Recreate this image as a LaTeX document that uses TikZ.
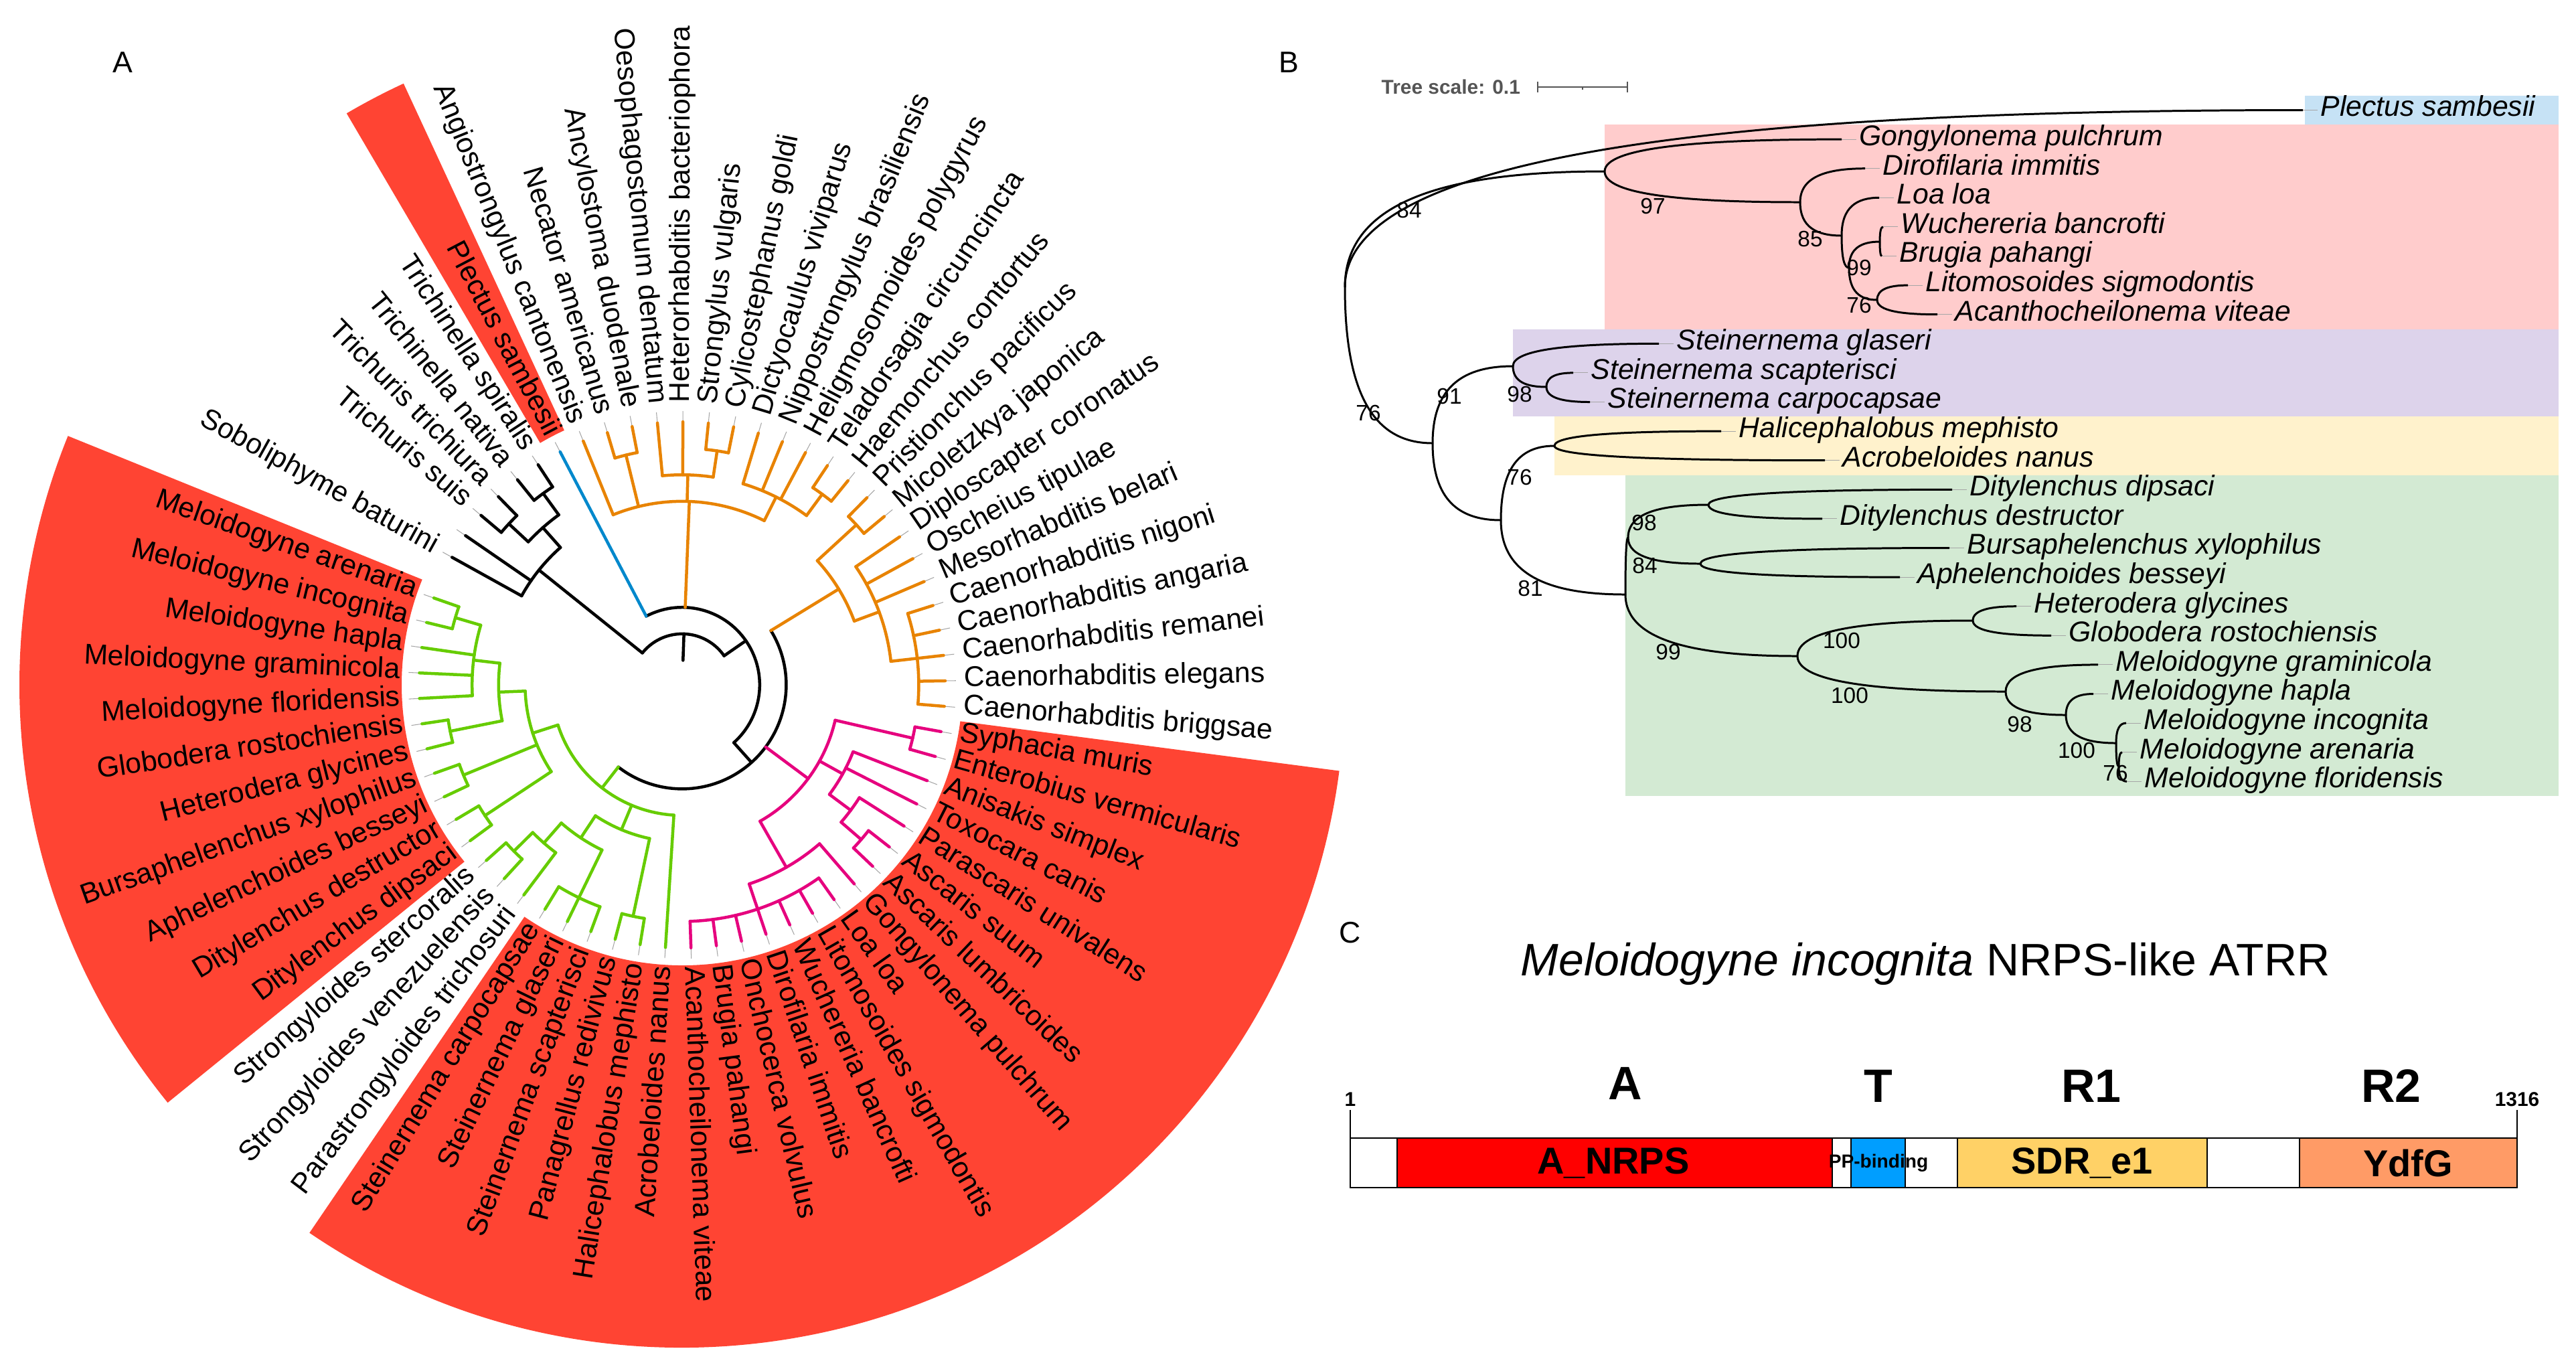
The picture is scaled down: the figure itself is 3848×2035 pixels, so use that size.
\documentclass[tikz,border=0pt]{standalone}
\usepackage{fontspec}
\setmainfont{Liberation Sans}
\usetikzlibrary{calc}
\definecolor{hlred}{RGB}{255,68,51}
\definecolor{corange}{RGB}{232,131,0}
\definecolor{cgreen}{RGB}{102,204,0}
\definecolor{cmag}{RGB}{230,0,126}
\definecolor{cblue}{RGB}{0,136,204}
\definecolor{bblue}{RGB}{198,226,245}
\definecolor{bpink}{RGB}{255,204,204}
\definecolor{bpurple}{RGB}{221,211,235}
\definecolor{byellow}{RGB}{255,242,204}
\definecolor{bgreen}{RGB}{211,234,211}
\definecolor{dred}{RGB}{255,0,0}
\definecolor{dblue}{RGB}{0,158,255}
\definecolor{dyellow}{RGB}{255,209,102}
\definecolor{dorange}{RGB}{255,155,102}
\definecolor{scalegray}{RGB}{85,85,85}
\tikzset{
 br/.style={line width=1.28pt,line cap=round},
 lead/.style={line width=0.3pt,draw=black!35},
 lab/.style={font=\fontsize{12.15}{14}\selectfont,inner sep=0pt},
 blab/.style={font=\fontsize{12.15}{14}\selectfont\itshape,inner sep=0pt},
 bbr/.style={line width=0.85pt},
 sup/.style={font=\fontsize{9.5}{11}\selectfont,inner sep=0pt},
 panel/.style={font=\fontsize{12.7}{15}\selectfont,inner sep=0pt},
 dom/.style={draw=black,line width=0.8pt},
}
\newcommand\Arc[4]{\draw[br,#1] (#3:#2) arc[start angle=#3,end angle=#4,radius=#2];}
\newcommand\Rad[4]{\draw[br,#1] (#2:#3) -- (#2:#4);}
\newcommand\Wedge[2]{\fill[hlred] (#1:419) arc[start angle=#1,end angle=#2,radius=419] -- (#2:990) arc[start angle=#2,end angle=#1,radius=990] -- cycle;}
\newcommand\cb[2]{\draw[bbr] (#1) .. controls ($(#1)!0.75!(#1|-#2)$) and ($(#1|-#2)!0.4!(#2)$) .. (#2);}
\def\La{353.4}\def\Lb{313.8}\def\Lc{274.2}\def\Ld{234.6}\def\Le{195}
\def\Lf{155.4}\def\Lg{115.8}\def\Lh{76.2}\def\Li{36.6}\def\Lt{393}
\begin{document}
\begin{tikzpicture}[x=0.01cm,y=-0.01cm]
\useasboundingbox (0,0) rectangle (3848,2035);
\fill[white] (0,0) rectangle (3848,2035);
% ================= Panel A =================
\node[panel] (labA) at (183,93) {A};
\begin{scope}[shift={(1019,1023)},y=0.01cm]
\Wedge{120.42}{114.86}
\Wedge{-140.92}{-202.06}
\Wedge{-7.46}{-124.22}
% leaders
\foreach \i in {0,...,63}{\pgfmathsetmacro\a{151-5.56*\i}\draw[lead] (\a:395) -- (\a:409);}
% root and backbone
\Rad{black}{87.995}{\Li}{\Lh}
\Arc{black}{\Lh}{141.27}{34.72}
\Rad{black}{141.27}{\Lh}{\Lc}
\Arc{black}{\Lc}{151}{131.54}
\Rad{black}{151}{\Lc}{\Lt}
\Rad{black}{145.44}{\Lc}{\Lt}
\Rad{black}{131.54}{\Lc}{\Lb}
\Arc{black}{\Lb}{137.10}{125.98}
\Rad{black}{137.10}{\Lb}{\La}
\Rad{black}{125.98}{\Lb}{\La}
\Arc{black}{\La}{139.88}{134.32}
\Rad{black}{139.88}{\La}{\Lt}
\Rad{black}{134.32}{\La}{\Lt}
\Arc{black}{\La}{128.76}{123.20}
\Rad{black}{128.76}{\La}{\Lt}
\Rad{black}{123.20}{\La}{\Lt}
\Rad{black}{34.72}{\Lh}{\Lg}
\Arc{black}{\Lg}{117.64}{-48.205}
\Rad{cblue}{117.64}{\Lg}{\Lt}
\Rad{corange}{87.755}{\Lg}{\Lc}
\Rad{black}{-48.205}{\Lg}{\Lf}
\Arc{black}{\Lf}{31.46}{-127.87}
\Rad{corange}{31.46}{\Lf}{\Lc}
\Rad{cmag}{-36.65}{\Lf}{\Ld}
\Rad{cgreen}{-127.87}{\Lf}{\Le}
% orange O1
\Arc{corange}{\Lc}{112.08}{63.43}
\Rad{corange}{112.08}{\Lc}{\Lt}
\Rad{corange}{103.74}{\Lc}{\La}
\Arc{corange}{\La}{106.52}{100.96}
\Rad{corange}{106.52}{\La}{\Lt}
\Rad{corange}{100.96}{\La}{\Lt}
\Rad{corange}{88.45}{\Lc}{\Lb}
\Arc{corange}{\Lb}{95.40}{81.50}
\Rad{corange}{95.40}{\Lb}{\Lt}
\Rad{corange}{89.84}{\Lb}{\Lt}
\Rad{corange}{81.50}{\Lb}{\La}
\Arc{corange}{\La}{84.28}{78.72}
\Rad{corange}{84.28}{\La}{\Lt}
\Rad{corange}{78.72}{\La}{\Lt}
\Rad{corange}{63.43}{\Lc}{\Lb}
\Arc{corange}{\Lb}{73.16}{53.70}
\Rad{corange}{73.16}{\Lb}{\Lt}
\Rad{corange}{67.60}{\Lb}{\Lt}
\Rad{corange}{62.04}{\Lb}{\Lt}
\Rad{corange}{53.70}{\Lb}{\La}
\Arc{corange}{\La}{56.48}{50.92}
\Rad{corange}{56.48}{\La}{\Lt}
\Rad{corange}{50.92}{\La}{\Lt}
% orange P2
\Arc{corange}{\Lc}{42.58}{20.34}
\Rad{corange}{42.58}{\Lc}{\La}
\Arc{corange}{\La}{45.36}{39.80}
\Rad{corange}{45.36}{\La}{\Lt}
\Rad{corange}{39.80}{\La}{\Lt}
\Rad{corange}{20.34}{\Lc}{\Lb}
\Arc{corange}{\Lb}{34.24}{6.44}
\Rad{corange}{34.24}{\Lb}{\Lt}
\Rad{corange}{28.68}{\Lb}{\Lt}
\Rad{corange}{23.12}{\Lb}{\Lt}
\Rad{corange}{6.44}{\Lb}{\La}
\Arc{corange}{\La}{17.56}{-4.68}
\Rad{corange}{17.56}{\La}{\Lt}
\Rad{corange}{12.00}{\La}{\Lt}
\Rad{corange}{6.44}{\La}{\Lt}
\Rad{corange}{0.88}{\La}{\Lt}
\Rad{corange}{-4.68}{\La}{\Lt}
% magenta
\Arc{cmag}{\Ld}{-13.02}{-60.28}
\Rad{cmag}{-13.02}{\Ld}{\La}
\Arc{cmag}{\La}{-10.24}{-15.80}
\Rad{cmag}{-10.24}{\La}{\Lt}
\Rad{cmag}{-15.80}{\La}{\Lt}
\Rad{cmag}{-29.005}{\Ld}{\Lc}
\Arc{cmag}{\Lc}{-21.36}{-36.65}
\Rad{cmag}{-21.36}{\Lc}{\Lt}
\Rad{cmag}{-26.92}{\Lc}{\Lt}
\Rad{cmag}{-36.65}{\Lc}{\Lb}
\Arc{cmag}{\Lb}{-32.48}{-40.82}
\Rad{cmag}{-32.48}{\Lb}{\Lt}
\Rad{cmag}{-40.82}{\Lb}{\La}
\Arc{cmag}{\La}{-38.04}{-43.60}
\Rad{cmag}{-38.04}{\La}{\Lt}
\Rad{cmag}{-43.60}{\La}{\Lt}
\Rad{cmag}{-60.28}{\Ld}{\Lb}
\Arc{cmag}{\Lb}{-49.16}{-71.40}
\Rad{cmag}{-49.16}{\Lb}{\Lt}
\Rad{cmag}{-71.40}{\Lb}{\La}
\Arc{cmag}{\La}{-54.72}{-88.08}
\foreach \a in {-54.72,-60.28,-65.84,-71.40,-76.96,-82.52,-88.08}{\Rad{cmag}{\a}{\La}{\Lt}}
% green
\Arc{cgreen}{\Le}{-93.64}{-162.10}
\Rad{cgreen}{-93.64}{\Le}{\Lt}
\Rad{cgreen}{-112.75}{\Le}{\Ld}
\Arc{cgreen}{\Ld}{-101.98}{-123.525}
\Rad{cgreen}{-101.98}{\Ld}{\La}
\Arc{cgreen}{\La}{-99.20}{-104.76}
\Rad{cgreen}{-99.20}{\La}{\Lt}
\Rad{cgreen}{-104.76}{\La}{\Lt}
\Rad{cgreen}{-123.525}{\Ld}{\Lc}
\Arc{cgreen}{\Lc}{-115.88}{-131.17}
\Rad{cgreen}{-115.88}{\Lc}{\La}
\Arc{cgreen}{\La}{-110.32}{-121.44}
\Rad{cgreen}{-110.32}{\La}{\Lt}
\Rad{cgreen}{-115.88}{\La}{\Lt}
\Rad{cgreen}{-121.44}{\La}{\Lt}
\Rad{cgreen}{-131.17}{\Lc}{\Lb}
\Arc{cgreen}{\Lb}{-127.00}{-135.34}
\Rad{cgreen}{-127.00}{\Lb}{\Lt}
\Rad{cgreen}{-135.34}{\Lb}{\La}
\Arc{cgreen}{\La}{-132.56}{-138.12}
\Rad{cgreen}{-132.56}{\La}{\Lt}
\Rad{cgreen}{-138.12}{\La}{\Lt}
\Rad{cgreen}{-162.10}{\Le}{\Ld}
\Arc{cgreen}{\Ld}{-146.46}{-177.735}
\Rad{cgreen}{-146.46}{\Ld}{\La}
\Arc{cgreen}{\La}{-143.68}{-149.24}
\Rad{cgreen}{-143.68}{\La}{\Lt}
\Rad{cgreen}{-149.24}{\La}{\Lt}
\Rad{cgreen}{-157.58}{\Ld}{\La}
\Arc{cgreen}{\La}{-154.80}{-160.36}
\Rad{cgreen}{-154.80}{\La}{\Lt}
\Rad{cgreen}{-160.36}{\La}{\Lt}
\Rad{cgreen}{-177.735}{\Ld}{\Lc}
\Arc{cgreen}{\Lc}{-168.70}{-186.77}
\Rad{cgreen}{-168.70}{\Lc}{\La}
\Arc{cgreen}{\La}{-165.92}{-171.48}
\Rad{cgreen}{-165.92}{\La}{\Lt}
\Rad{cgreen}{-171.48}{\La}{\Lt}
\Rad{cgreen}{-186.77}{\Lc}{\Lb}
\Arc{cgreen}{\Lb}{-177.04}{-196.50}
\Rad{cgreen}{-177.04}{\Lb}{\Lt}
\Rad{cgreen}{-182.60}{\Lb}{\Lt}
\Rad{cgreen}{-188.16}{\Lb}{\Lt}
\Rad{cgreen}{-196.50}{\Lb}{\La}
\Arc{cgreen}{\La}{-193.72}{-199.28}
\Rad{cgreen}{-193.72}{\La}{\Lt}
\Rad{cgreen}{-199.28}{\La}{\Lt}
% labels
\foreach \i/\nm in {0/Soboliphyme baturini,2/Trichuris suis,3/Trichuris trichiura,4/Trichinella nativa,5/Trichinella spiralis,6/Plectus sambesii,7/Angiostrongylus cantonensis,8/Necator americanus,9/Ancylostoma duodenale,10/Oesophagostomum dentatum,11/Heterorhabditis bacteriophora,12/Strongylus vulgaris,13/Cylicostephanus goldi,14/Dictyocaulus viviparus,15/Nippostrongylus brasiliensis,16/Heligmosomoides polygyrus,17/Teladorsagia circumcincta,18/Haemonchus contortus,19/Pristionchus pacificus,20/Micoletzkya japonica,21/Diploscapter coronatus,22/Oscheius tipulae,23/Mesorhabditis belari,24/Caenorhabditis nigoni,25/Caenorhabditis angaria,26/Caenorhabditis remanei,27/Caenorhabditis elegans,28/Caenorhabditis briggsae,29/Syphacia muris,30/Enterobius vermicularis,31/Anisakis simplex,32/Toxocara canis,33/Parascaris univalens,34/Ascaris suum,35/Ascaris lumbricoides,36/Gongylonema pulchrum,37/Loa loa,38/Litomosoides sigmodontis,39/Wuchereria bancrofti,40/Dirofilaria immitis,41/Onchocerca volvulus,42/Brugia pahangi,43/Acanthocheilonema viteae,44/Acrobeloides nanus,45/Halicephalobus mephisto,46/Panagrellus redivivus,47/Steinernema scapterisci,48/Steinernema glaseri,49/Steinernema carpocapsae,50/Parastrongyloides trichosuri,51/Strongyloides venezuelensis,52/Strongyloides stercoralis,53/Ditylenchus dipsaci,54/Ditylenchus destructor,55/Aphelenchoides besseyi,56/Bursaphelenchus xylophilus,57/Heterodera glycines,58/Globodera rostochiensis,59/Meloidogyne floridensis,60/Meloidogyne graminicola,61/Meloidogyne hapla,62/Meloidogyne incognita,63/Meloidogyne arenaria}{
  \pgfmathsetmacro\a{151-5.56*\i}
  \pgfmathtruncatemacro\side{(\a>90)||(\a<-90)}
  \ifnum\side=1
    \pgfmathsetmacro\rot{\a>90 ? \a-180 : \a+180}
    \node[lab,anchor=mid east,rotate=\rot] (tl\i) at (\a:421) {\nm};
  \else
    \node[lab,anchor=mid west,rotate=\a] (tl\i) at (\a:421) {\nm};
  \fi
}
\end{scope}
% ================= Panel B =================
\node[panel] (labB) at (1925,93) {B};
\node[anchor=base west,font=\bfseries\fontsize{8.5}{10}\selectfont,text=scalegray,inner sep=0pt] (tscale) at (2063,140) {Tree scale: 0.1};
\draw[scalegray,line width=0.6pt] (2297,130) -- (2431,130);
\draw[scalegray,line width=0.6pt] (2297,122) -- (2297,138);
\draw[scalegray,line width=0.6pt] (2431,122) -- (2431,138);
\draw[scalegray,line width=0.6pt] (2364,130) -- (2364,134);
\fill[bblue] (3443,142.7) rectangle (3822,186.3);
\fill[bpink] (2397,186.3) rectangle (3822,491.5);
\fill[bpurple] (2260,491.5) rectangle (3822,622.3);
\fill[byellow] (2322,622.3) rectangle (3822,709.5);
\fill[bgreen] (2428,709.5) rectangle (3822,1189);
\foreach \k/\x/\nm in {0/3440/Plectus sambesii,1/2751/Gongylonema pulchrum,2/2786/Dirofilaria immitis,3/2807/Loa loa,4/2813/Wuchereria bancrofti,5/2811/Brugia pahangi,6/2850/Litomosoides sigmodontis,7/2894/Acanthocheilonema viteae,8/2478/Steinernema glaseri,9/2350/Steinernema scapterisci,10/2375/Steinernema carpocapsae,11/2571/Halicephalobus mephisto,12/2726/Acrobeloides nanus,13/2916/Ditylenchus dipsaci,14/2722/Ditylenchus destructor,15/2912/Bursaphelenchus xylophilus,16/2838/Aphelenchoides besseyi,17/3012/Heterodera glycines,18/3064/Globodera rostochiensis,19/3134/Meloidogyne graminicola,20/3127/Meloidogyne hapla,21/3176/Meloidogyne incognita,22/3170/Meloidogyne arenaria,23/3177/Meloidogyne floridensis}{
  \coordinate (bt\k) at (\x,{164.5+43.6*\k});
  \draw[lead] (bt\k) -- ++(22,0);
  \node[blab,anchor=mid west] (bl\k) at ({\x+26},{164.5+43.6*\k}) {\nm};
}
\coordinate (RB) at (2009,429);
\coordinate (N97) at (2397,256);
\coordinate (N85) at (2689,302);
\coordinate (Na) at (2751,352);
\coordinate (Nb) at (2762,400);
\coordinate (N99) at (2808,361);
\coordinate (N76f) at (2804,448);
\coordinate (N76a) at (2140,662);
\coordinate (N91) at (2260,547);
\coordinate (N98s) at (2310,578);
\coordinate (Nlow) at (2242,777);
\coordinate (Nha) at (2322,666);
\coordinate (Nty) at (2428,888);
\coordinate (Ndb) at (2432,803);
\coordinate (Ndit) at (2552,754);
\coordinate (Nbur) at (2540,842);
\coordinate (Nhg) at (2685,980);
\coordinate (Nhet) at (2947,927);
\coordinate (Nmel) at (2996,1033);
\coordinate (Nm2) at (3086,1068);
\coordinate (Nm3) at (3161,1110);
\coordinate (Nm4) at (3165,1145);
\cb{RB}{bt0}\cb{RB}{N97}\cb{RB}{N76a}
\cb{N97}{bt1}\cb{N97}{N85}
\cb{N85}{bt2}\cb{N85}{Na}
\cb{Na}{bt3}\cb{Na}{Nb}
\cb{Nb}{N99}\cb{Nb}{N76f}
\cb{N99}{bt4}\cb{N99}{bt5}
\cb{N76f}{bt6}\cb{N76f}{bt7}
\cb{N76a}{N91}\cb{N76a}{Nlow}
\cb{N91}{bt8}\cb{N91}{N98s}
\cb{N98s}{bt9}\cb{N98s}{bt10}
\cb{Nlow}{Nha}\cb{Nlow}{Nty}
\cb{Nha}{bt11}\cb{Nha}{bt12}
\cb{Nty}{Ndb}\cb{Nty}{Nhg}
\cb{Ndb}{Ndit}\cb{Ndb}{Nbur}
\cb{Ndit}{bt13}\cb{Ndit}{bt14}
\cb{Nbur}{bt15}\cb{Nbur}{bt16}
\cb{Nhg}{Nhet}\cb{Nhg}{Nmel}
\cb{Nhet}{bt17}\cb{Nhet}{bt18}
\cb{Nmel}{bt19}\cb{Nmel}{Nm2}
\cb{Nm2}{bt20}\cb{Nm2}{Nm3}
\cb{Nm3}{bt21}\cb{Nm3}{Nm4}
\cb{Nm4}{bt22}\cb{Nm4}{bt23}
\foreach \n/\x/\y/\t in {s1/2105/314/84,s2/2469/308/97,s3/2704/357/85,s4/2777/400/99,s5/2777/456/76,s6/2165/592/91,s7/2270/589/98,s8/2044/617/76,s9/2270/713/76,s10/2286/879/81,s11/2456/781/98,s12/2457/845/84,s13/2492/974/99,s14/2751/957/100,s15/2763/1039/100,s16/3017/1082/98,s17/3102/1121/100,s18/3160/1155/76}{
  \node[sup] (\n) at (\x,\y) {\t};
}
% ================= Panel C =================
\node[panel] (labC) at (2017,1393) {C};
\node[anchor=base,font=\fontsize{19.35}{23}\selectfont,inner sep=0pt] (ctitle) at (2876,1457) {\textit{Meloidogyne incognita} NRPS-like ATRR};
\draw[line width=0.4pt] (2017,1658) -- (2017,1700);
\draw[line width=0.4pt] (3760,1658) -- (3760,1700);
\node[anchor=base,font=\bfseries\fontsize{8.5}{10}\selectfont,inner sep=0pt] (pos1) at (2017,1652) {1};
\node[anchor=base,font=\bfseries\fontsize{8.5}{10}\selectfont,inner sep=0pt] (pos2) at (3760,1652) {1316};
\draw[dom,fill=white] (2017,1700) rectangle (3760,1774);
\draw[dom,fill=dred] (2087,1700) rectangle (2737,1774);
\draw[dom,fill=dblue] (2765,1700) rectangle (2846,1774);
\draw[dom,fill=dyellow] (2924,1700) rectangle (3297,1774);
\draw[dom,fill=dorange] (3435,1700) rectangle (3760,1774);
\node[font=\bfseries\fontsize{15.9}{18}\selectfont,inner sep=0pt] (dA) at (2410,1737) {A\_NRPS};
\node[font=\bfseries\fontsize{8}{9}\selectfont,inner sep=0pt] (dT) at (2806,1737) {PP-binding};
\node[font=\bfseries\fontsize{15.9}{18}\selectfont,inner sep=0pt] (dR1) at (3110,1737) {SDR\_e1};
\node[font=\bfseries\fontsize{15.9}{18}\selectfont,inner sep=0pt] (dR2) at (3597,1737) {YdfG};
\node[anchor=base,font=\bfseries\fontsize{19.9}{22}\selectfont,inner sep=0pt] (hA) at (2428,1642) {A};
\node[anchor=base,font=\bfseries\fontsize{19.9}{22}\selectfont,inner sep=0pt] (hT) at (2806,1646) {T};
\node[anchor=base,font=\bfseries\fontsize{19.9}{22}\selectfont,inner sep=0pt] (hR1) at (3124,1646) {R1};
\node[anchor=base,font=\bfseries\fontsize{19.9}{22}\selectfont,inner sep=0pt] (hR2) at (3572,1646) {R2};
\end{tikzpicture}
\end{document}
